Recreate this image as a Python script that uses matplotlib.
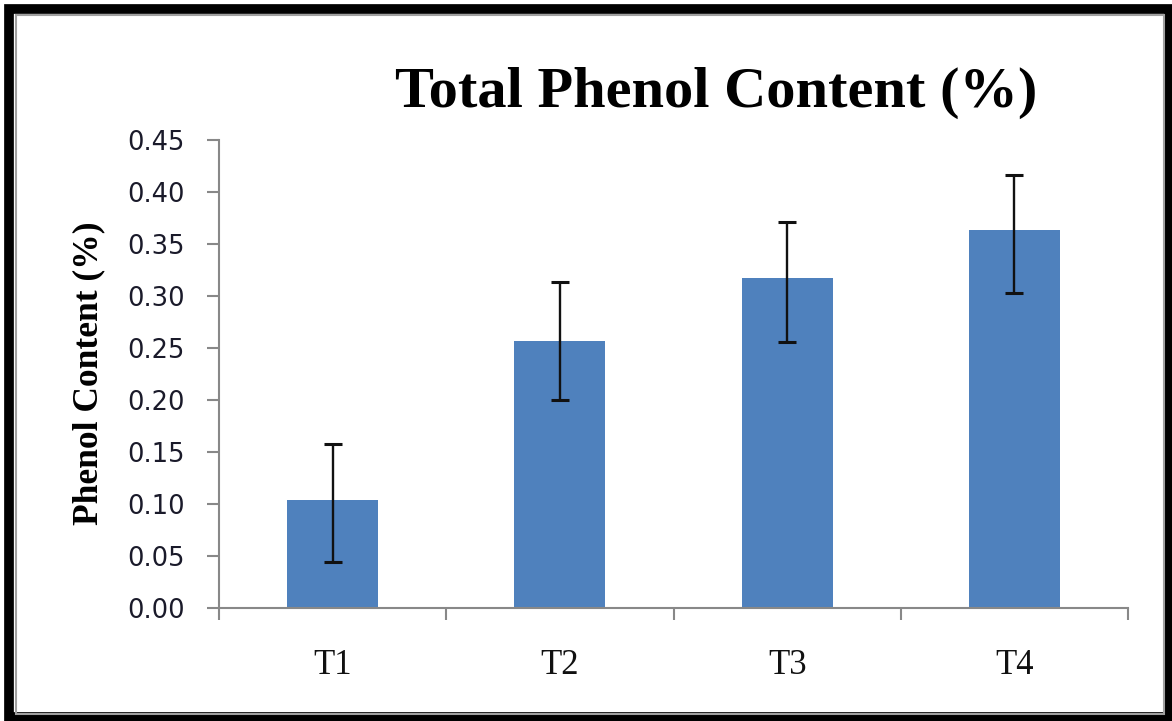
import matplotlib.pyplot as plt
from matplotlib.patches import Rectangle
import numpy as np

# data
treatments = ["T1", "T2", "T3", "T4"]
phenol = [0.103, 0.257, 0.317, 0.363]
err_low = [0.0595, 0.057, 0.061, 0.060]
err_high = [0.054, 0.056, 0.054, 0.053]
yticks = [0.00, 0.05, 0.10, 0.15, 0.20, 0.25, 0.30, 0.35, 0.40, 0.45]

W, H = 1172, 721
fig = plt.figure(figsize=(W / 100, H / 100), dpi=100)

# frame: thick black outer border + thin grey inner line
fig.patches.append(Rectangle((8.5 / W, 4 / H), (1169 - 8.5) / W, (712.5 - 4) / H,
                             transform=fig.transFigure, fill=False,
                             edgecolor="black", linewidth=7, zorder=0))
fig.patches.append(Rectangle((16 / W, (H - 714) / H), (1164 - 16) / W, (714 - 15) / H,
                             transform=fig.transFigure, fill=False,
                             edgecolor="#a0a0a0", linewidth=1.5, zorder=0))

ax = fig.add_axes([219 / W, 1 - 607.5 / H, (1128 - 219) / W, (607.5 - 140) / H])

x = np.arange(len(treatments))
ax.bar(x, phenol, width=0.4, color="#4F81BD", zorder=2)
ax.errorbar(x, phenol, yerr=[err_low, err_high], fmt="none", ecolor="#111111",
            elinewidth=1.7, capsize=6.5, capthick=2.2, zorder=3)

ax.set_xlim(-0.5, len(treatments) - 0.5)
ax.set_ylim(0, 0.45)
ax.set_yticks(yticks)
ax.set_yticklabels([f"{v:.2f}" for v in yticks])

# category boundary ticks, labels at the centres
ax.set_xticks(np.arange(len(treatments) + 1) - 0.5)
ax.set_xticklabels([])
ax.set_xticks(x, minor=True)
ax.set_xticklabels(treatments, minor=True, family="Liberation Serif", fontsize=25)
ax.tick_params(axis="x", which="minor", length=0, pad=30, colors="#111111")
ax.tick_params(axis="x", which="major", length=8.6, width=1.5, color="#888888", direction="out")
ax.tick_params(axis="y", length=8.6, width=1.5, color="#888888", direction="out",
               pad=16, labelsize=18.5, labelcolor="#1a1a2a")

for side in ["top", "right"]:
    ax.spines[side].set_visible(False)
for side in ["left", "bottom"]:
    ax.spines[side].set_color("#888888")
    ax.spines[side].set_linewidth(1.5)

ax.set_ylabel("Phenol Content (%)", family="Liberation Serif", fontweight="bold",
              fontsize=25.5, labelpad=16)

fig.text(716 / W, 1 - 93 / H, "Total Phenol Content (%)", ha="center", va="center",
         family="Liberation Serif", fontweight="bold", fontsize=42)

fig.savefig("out.png", dpi=100)
